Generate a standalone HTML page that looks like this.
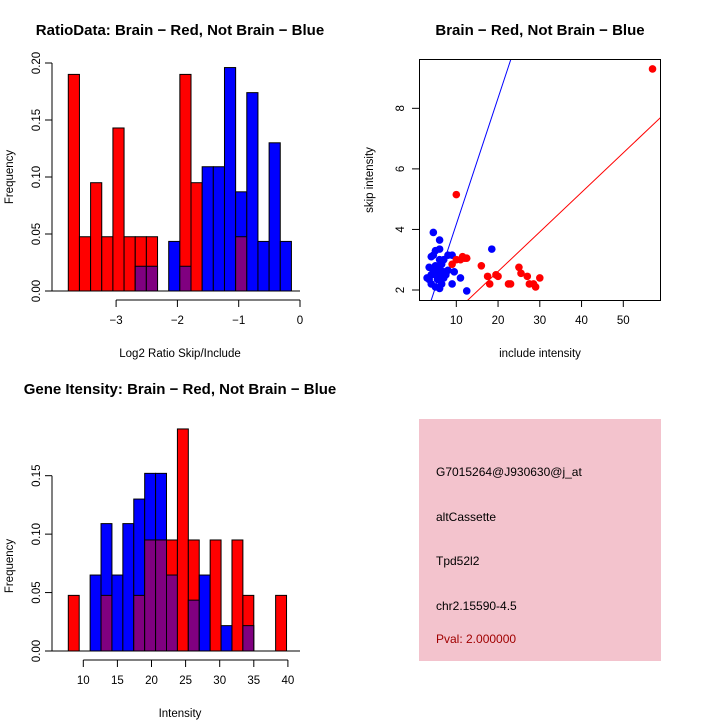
<!DOCTYPE html>
<html><head><meta charset="utf-8"><style>
body{margin:0;background:#fff}
svg{display:block;font-family:"Liberation Sans",sans-serif}
</style></head><body>
<svg id="c" width="720" height="720" viewBox="0 0 720 720">
</svg>
<script>
// ---- data: ratio histogram
const ratioBinStart=-3.78, ratioBinWidth=0.182;
const ratioRed=[0.19,0.0476,0.095,0.0476,0.143,0.0476,0.0476,0.0476,0,0,0.19,0.095,0,0,0,0.0476,0,0,0,0];
const ratioBlue=[0,0,0,0,0,0,0.0217,0.0217,0,0.0435,0.0217,0,0.109,0.109,0.196,0.087,0.174,0.0435,0.13,0.0435];
const ratioXTicks=[-3,-2,-1,0];
const ratioYTicks=[0,0.05,0.10,0.15,0.20];
// ---- data: intensity histogram
const intBinStart=7.8, intBinWidth=1.6;
const intRed=[0.0476,0,0,0.0476,0,0,0.0476,0.095,0.095,0.095,0.19,0.095,0,0.095,0,0.095,0.0476,0,0,0.0476];
const intBlue=[0,0,0.065,0.109,0.065,0.109,0.13,0.152,0.152,0.065,0,0.0435,0.065,0,0.0217,0,0.0217,0,0,0];
const intXTicks=[10,15,20,25,30,35,40];
const intYTicks=[0,0.05,0.10,0.15];
// ---- data: scatter
const redX=[57,10,9,10,11,11.5,12,12.5,16,17.5,18,19.5,20,23,22.5,25,25.5,27,27.5,28.5,29,30];
const redY=[9.3,5.15,2.85,3.0,3.0,3.1,3.05,3.05,2.8,2.45,2.2,2.5,2.45,2.2,2.2,2.75,2.55,2.45,2.2,2.2,2.1,2.4];
const blueX=[4.5,6,6,5,4,4.5,8,9,6,7,18.5,12.5,11,9,9.5,3.5,3.5,4,5,6,6.5,5,5.5,6,7,7.5,8,4.5,5,6.5,5.5,4,3,7,6];
const blueY=[3.9,3.65,3.35,3.3,3.1,3.15,3.15,3.15,3.0,3.0,3.35,1.97,2.4,2.2,2.6,2.75,2.35,2.2,2.1,2.05,2.2,2.5,2.6,2.7,2.6,2.5,2.65,2.6,2.8,2.85,2.35,2.5,2.4,2.4,2.45];
const blueSlope=0.417, redSlope=0.1306;
const scXTicks=[10,20,30,40,50];
const scYTicks=[2,4,6,8];
const infoLines=["G7015264@J930630@j_at","altCassette","Tpd52l2","chr2.15590-4.5"];
const pvalText="Pval: 2.000000";

const svg=document.getElementById('c');
const NS='http://www.w3.org/2000/svg';
function mk(tag,a,parent){const e=document.createElementNS(NS,tag);for(const k in a)e.setAttribute(k,a[k]);(parent||svg).appendChild(e);return e;}
function txt(x,y,s,size,opt){opt=opt||{};const t=mk('text',{x:x,y:y,'font-size':size,'text-anchor':opt.anchor||'middle',fill:opt.fill||'#000','font-weight':opt.bold?'bold':'normal'});if(opt.rot)t.setAttribute('transform','rotate(-90 '+x+' '+y+')');t.textContent=s;return t;}

function hist(g,start,w,red,blue,xS,yS){
  for(let i=0;i<red.length;i++){
    const x0=xS(start+i*w),x1=xS(start+(i+1)*w);
    const r=red[i],b=blue[i];
    const mx=Math.max(r,b);
    if(mx>0){
      const rc=mk('rect',{x:x0,y:yS(mx),width:x1-x0,height:yS(0)-yS(mx),fill:r>=b?'#ff0000':'#0000ff',stroke:'#000','stroke-width':1},g);
      
      
    }
    const mn=Math.min(r,b);
    if(mn>0){
      const pc=mk('rect',{x:x0,y:yS(mn),width:x1-x0,height:yS(0)-yS(mn),fill:'#800080',stroke:'#000','stroke-width':1},g);
      
      
    }
  }
}
function yAxis(g,x,ticks,yS,fmt){
  mk('line',{x1:x,x2:x,y1:yS(ticks[0]),y2:yS(ticks[ticks.length-1]),stroke:'#000'},g);
  ticks.forEach(t=>{mk('line',{x1:x-7,x2:x,y1:yS(t),y2:yS(t),stroke:'#000'},g);txt(x-12,yS(t),fmt(t),11.5,{rot:1});});
}
function xAxis(g,y,ticks,xS){
  mk('line',{x1:xS(ticks[0]),x2:xS(ticks[ticks.length-1]),y1:y,y2:y,stroke:'#000'},g);
  ticks.forEach(t=>{mk('line',{x1:xS(t),x2:xS(t),y1:y,y2:y+7,stroke:'#000'},g);txt(xS(t),y+24,String(t).replace('-','\u2212'),11.5);});
}

// Panel 1
{
  const g=mk('g',{});
  const xS=v=>300+(v-0)*61.3, yS=v=>291-v*1140;
  hist(g,ratioBinStart,ratioBinWidth,ratioRed,ratioBlue,xS,yS);
  mk('line',{x1:52,x2:300,y1:291,y2:291,stroke:'#000'},g);
  yAxis(g,52,ratioYTicks,yS,t=>t.toFixed(2));
  xAxis(g,300,ratioXTicks,xS);
  txt(180,35,'RatioData: Brain \u2212 Red, Not Brain \u2212 Blue',15,{bold:1});
  txt(180,357,'Log2 Ratio Skip/Include',11.5);
  txt(13,177,'Frequency',11.5,{rot:1});
}
// Panel 2
{
  const g=mk('g',{});
  const xS=v=>456.3+(v-10)*4.175, yS=v=>290-(v-2)*30.28;
  const cp=mk('clipPath',{id:'sc'},g);mk('rect',{x:419,y:59,width:241,height:241},cp);
  const lg=mk('g',{'clip-path':'url(#sc)'},g);
  const bl=mk('line',{x1:xS(0),y1:yS(0),x2:xS(60),y2:yS(60*blueSlope),stroke:'#0000ff'},lg);
  
  const rl=mk('line',{x1:xS(0),y1:yS(0),x2:xS(60),y2:yS(60*redSlope),stroke:'#ff0000'},lg);
  
  blueX.forEach((x,i)=>{const c=mk('circle',{cx:xS(x),cy:yS(blueY[i]),r:3.8,fill:'#0000ff'},lg);});
  redX.forEach((x,i)=>{const c=mk('circle',{cx:xS(x),cy:yS(redY[i]),r:3.8,fill:'#ff0000'},lg);});
  mk('rect',{x:419.5,y:59.5,width:241,height:241,fill:'none',stroke:'#000'},g);
  scXTicks.forEach(t=>{mk('line',{x1:xS(t),x2:xS(t),y1:300,y2:307,stroke:'#000'},g);txt(xS(t),324,String(t),11.5);});
  scYTicks.forEach(t=>{mk('line',{x1:412,x2:419,y1:yS(t),y2:yS(t),stroke:'#000'},g);txt(404,yS(t),String(t),11.5,{rot:1});});
  txt(540,35,'Brain \u2212 Red, Not Brain \u2212 Blue',15,{bold:1});
  txt(540,357,'include intensity',11.5);
  txt(373,180,'skip intensity',11.5,{rot:1});
}
// Panel 3
{
  const g=mk('g',{});
  const xS=v=>83.3+(v-10)*6.82, yS=v=>651-v*1168.7;
  hist(g,intBinStart,intBinWidth,intRed,intBlue,xS,yS);
  mk('line',{x1:52,x2:300,y1:651,y2:651,stroke:'#000'},g);
  yAxis(g,52,intYTicks,yS,t=>t.toFixed(2));
  xAxis(g,660,intXTicks,xS);
  txt(180,394,'Gene Itensity: Brain \u2212 Red, Not Brain \u2212 Blue',15,{bold:1});
  txt(180,717,'Intensity',11.5);
  txt(13,566,'Frequency',11.5,{rot:1});
}
// Panel 4
{
  const g=mk('g',{});
  mk('rect',{x:419,y:419,width:242,height:242,fill:'#f3c3cd'},g);
  const ys=[476,521,565,610];
  infoLines.forEach((s,i)=>{const t=txt(436,ys[i],s,12,{anchor:'start'});});
  const p=txt(436,643,pvalText,12,{anchor:'start',fill:'#a00000'});
  
}
</script>
</body></html>
